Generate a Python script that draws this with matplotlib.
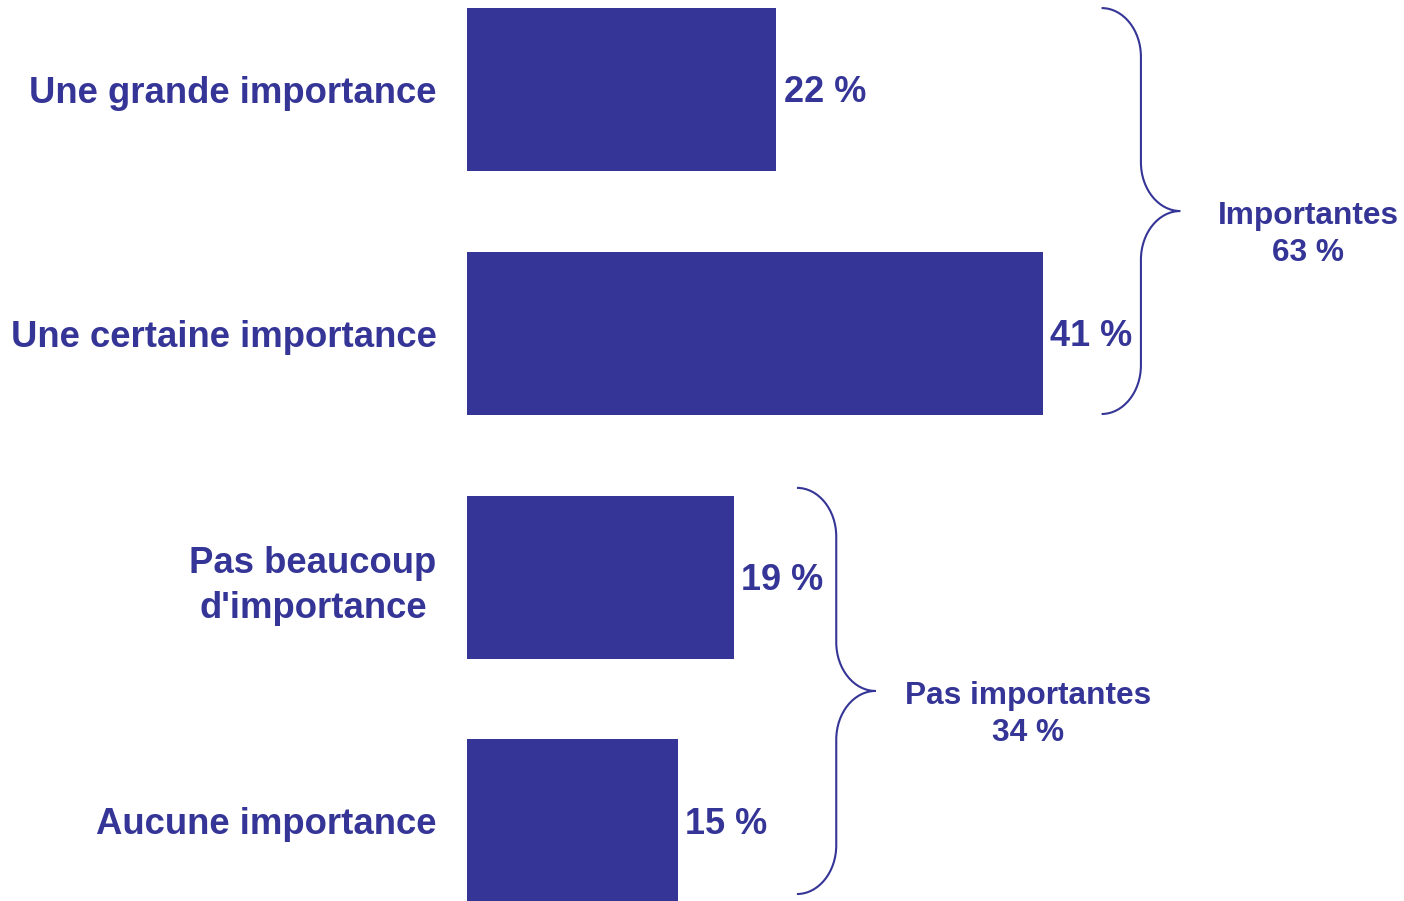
import matplotlib
matplotlib.use('Agg')
import matplotlib.pyplot as plt
from matplotlib.path import Path
from matplotlib.patches import PathPatch

plt.rcParams['font.family'] = ['Liberation Sans', 'DejaVu Sans']

categories = ["Une grande importance", "Une certaine importance",
              "Pas beaucoup\nd'importance", "Aucune importance"]
values = [22, 41, 19, 15]
value_labels = ["22 %", "41 %", "19 %", "15 %"]

group_labels = ["Importantes\n63 %", "Pas importantes\n34 %"]
# brace: start x (in %), top y, bottom y (category units)
group_x = [45.2, 23.5]
group_y = [(-0.334, 1.331), (1.634, 3.30)]
# label centre (x in %, y in category units)
group_label_pos = [(59.9, 0.593), (39.96, 2.562)]

color = '#353597'


def draw_brace(ax, x0, y0, y1, w=2.8, r=0.2):
    ym = (y0 + y1) / 2
    k = 0.55
    verts = [
        (x0, y0),
        (x0 + k * w, y0), (x0 + w, y0 + r - k * r), (x0 + w, y0 + r),
        (x0 + w, ym - r),
        (x0 + w, ym - r + k * r), (x0 + 2 * w - k * w, ym), (x0 + 2 * w, ym),
        (x0 + 2 * w - k * w, ym), (x0 + w, ym + r - k * r), (x0 + w, ym + r),
        (x0 + w, y1 - r),
        (x0 + w, y1 - r + k * r), (x0 + k * w, y1), (x0, y1),
    ]
    codes = [Path.MOVETO,
             Path.CURVE4, Path.CURVE4, Path.CURVE4,
             Path.LINETO,
             Path.CURVE4, Path.CURVE4, Path.CURVE4,
             Path.CURVE4, Path.CURVE4, Path.CURVE4,
             Path.LINETO,
             Path.CURVE4, Path.CURVE4, Path.CURVE4]
    ax.add_patch(PathPatch(Path(verts, codes), fill=False, edgecolor=color,
                           lw=1.5, clip_on=False))


fig = plt.figure(figsize=(14.04, 9.01), dpi=100)
ax = fig.add_axes([467 / 1404, 0, 1 - 467 / 1404, 1])

ypos = list(range(len(categories)))
ax.barh(ypos, values, height=0.669, color=color)

ax.set_xlim(0, (1404 - 467) / 14.04)
ax.set_ylim((901 - 89.5) / 243.8, -89.5 / 243.8)

ax.set_yticks(ypos)
ax.set_yticklabels(categories, fontsize=26.3, fontweight='bold', color=color)
for t in ax.get_yticklabels():
    t.set_multialignment('center')
    t.set_linespacing(1.35)
ax.tick_params(axis='y', length=0, pad=22)
ax.set_xticks([])
for s in ax.spines.values():
    s.set_visible(False)

for y, v, lab in zip(ypos, values, value_labels):
    ax.annotate(lab, (v, y), xytext=(5.5, -2.5), textcoords='offset points',
                ha='left', va='center', fontsize=26, fontweight='bold',
                color=color)

for x0, (y0, y1) in zip(group_x, group_y):
    draw_brace(ax, x0, y0, y1)

for (lx, ly), lab in zip(group_label_pos, group_labels):
    ax.text(lx, ly, lab, ha='center', va='center', ma='center',
            fontsize=22.8, fontweight='bold', color=color, linespacing=1.3,
            clip_on=False)

fig.savefig('out.png', dpi=100)
